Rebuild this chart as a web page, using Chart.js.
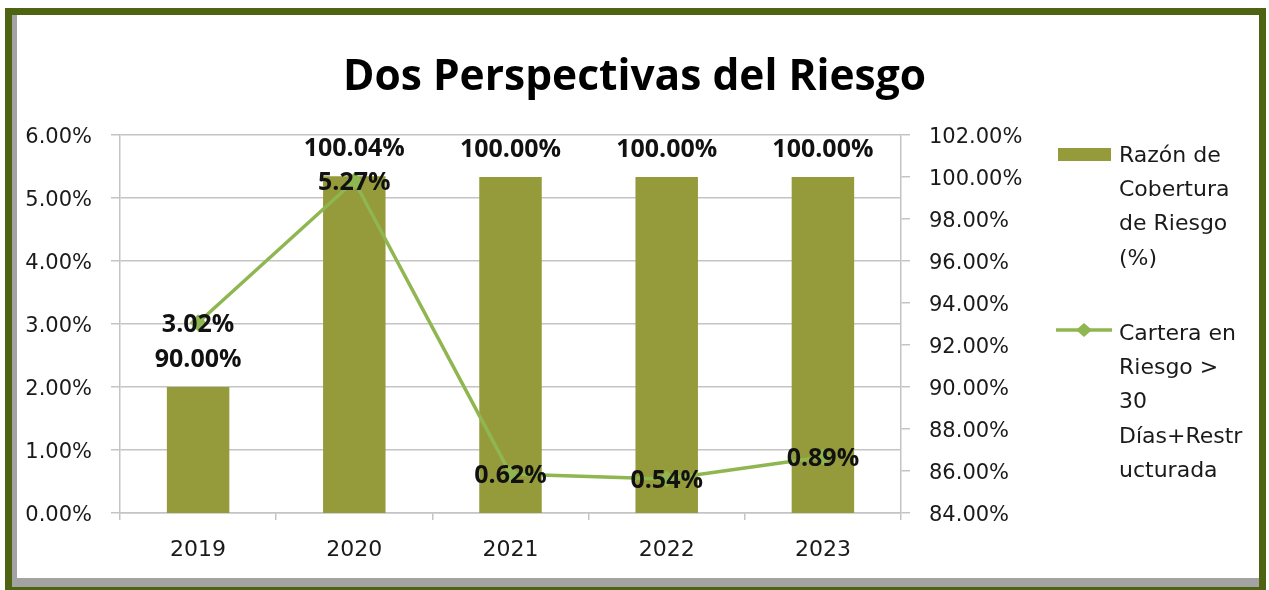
<!DOCTYPE html>
<html>
<head>
<meta charset="utf-8">
<script src="https://cdn.jsdelivr.net/npm/chart.js@4.4.1/dist/chart.umd.min.js"></script>
<style>
  html, body { margin:0; padding:0; background:#ffffff; }
  #wrap { position:relative; width:1269px; height:590px; overflow:hidden; background:#fff; }
  #c { position:absolute; left:0; top:0; }
  #frame {
    position:absolute; left:5px; top:8px; width:1261px; height:586px;
    box-sizing:border-box; border:7px solid #4e6413;
    box-shadow: inset 5px -9px 0 #a3a3a3;
    pointer-events:none;
  }
</style>
</head>
<body>
<div id="wrap">
  <canvas id="c" width="1269" height="590"></canvas>
  <div id="frame"></div>
</div>
<script>
const titleText = 'Dos Perspectivas del Riesgo';
const categories = ['2019', '2020', '2021', '2022', '2023'];
const coberturaValues = [90.00, 100.04, 100.00, 100.00, 100.00];
const carteraValues = [3.02, 5.27, 0.62, 0.54, 0.89];
const coberturaLegend = ['Razón de', 'Cobertura', 'de Riesgo', '(%)'];
const carteraLegend = ['Cartera en', 'Riesgo >', '30', 'Días+Restr', 'ucturada'];
const leftAxisRange = [0, 6, 1];
const rightAxisRange = [84, 102, 2];

const BAR_COLOR = '#959a3b';
const LINE_COLOR = '#8fb651';
const GRID = '#c4c4c4';
const TEXT = '#1a1a1a';

Chart.defaults.font.family = "'DejaVu Sans', sans-serif";
Chart.defaults.color = TEXT;

const fmt = v => Number(v).toFixed(2) + '%';

const labelPlugin = {
  id: 'valueLabels',
  afterDatasetsDraw(chart) {
    const ctx = chart.ctx;
    ctx.save();
    ctx.font = "bold 25px 'Open Sans', sans-serif";
    ctx.fillStyle = '#111';
    ctx.textAlign = 'center';
    ctx.textBaseline = 'middle';
    const barMeta = chart.getDatasetMeta(0);
    barMeta.data.forEach((el, i) => {
      ctx.fillText(fmt(chart.data.datasets[0].data[i]), el.x, el.y - 27);
    });
    const lineMeta = chart.getDatasetMeta(1);
    lineMeta.data.forEach((el, i) => {
      ctx.fillText(fmt(chart.data.datasets[1].data[i]), el.x, el.y + 2);
    });
    ctx.restore();
  }
};

const legendPlugin = {
  id: 'sideLegend',
  afterDraw(chart) {
    const ctx = chart.ctx;
    const a = chart.chartArea;
    const ds = chart.data.datasets;
    const sx = a.right + 156;
    const tx = a.right + 218;
    ctx.save();
    ctx.fillStyle = ds[0].backgroundColor;
    ctx.fillRect(sx + 1, a.top + 13, 53, 13);
    const ly = a.top + 195;
    ctx.strokeStyle = ds[1].borderColor;
    ctx.lineWidth = 3.5;
    ctx.beginPath(); ctx.moveTo(sx - 1, ly); ctx.lineTo(sx + 55, ly); ctx.stroke();
    ctx.fillStyle = ds[1].borderColor;
    ctx.beginPath();
    const cx = sx + 27;
    ctx.moveTo(cx, ly - 7); ctx.lineTo(cx + 8, ly); ctx.lineTo(cx, ly + 7); ctx.lineTo(cx - 8, ly);
    ctx.closePath(); ctx.fill();
    ctx.font = "22px 'DejaVu Sans', sans-serif";
    ctx.fillStyle = TEXT;
    ctx.textAlign = 'left';
    ctx.textBaseline = 'middle';
    const lh = 34.3;
    coberturaLegend.forEach((t, i) => ctx.fillText(t, tx, a.top + 21 + i * lh));
    carteraLegend.forEach((t, i) => ctx.fillText(t, tx, a.top + 199 + i * lh));
    ctx.restore();
  }
};

new Chart(document.getElementById('c'), {
  type: 'bar',
  data: {
    labels: categories,
    datasets: [
      {
        type: 'bar',
        label: 'Razón de Cobertura de Riesgo (%)',
        data: coberturaValues,
        backgroundColor: BAR_COLOR,
        yAxisID: 'yR',
        order: 2,
        categoryPercentage: 0.5,
        barPercentage: 0.8
      },
      {
        type: 'line',
        label: 'Cartera en Riesgo > 30 Días+Restructurada',
        data: carteraValues,
        borderColor: LINE_COLOR,
        backgroundColor: LINE_COLOR,
        borderWidth: 3.5,
        pointStyle: 'rectRot',
        pointRadius: 6,
        tension: 0,
        yAxisID: 'yL',
        order: 1
      }
    ]
  },
  options: {
    responsive: false,
    animation: false,
    devicePixelRatio: 1,
    layout: { padding: { left: 0, right: 0, top: 0, bottom: 0 } },
    plugins: {
      legend: { display: false },
      tooltip: { enabled: false },
      title: {
        display: true,
        text: titleText,
        color: '#000',
        font: { family: "'Open Sans'", size: 42.5, weight: 'bold', lineHeight: 1.2 },
        padding: { top: 52, bottom: 32 }
      }
    },
    scales: {
      x: {
        offset: true,
        grid: { offset: true, drawOnChartArea: false, drawTicks: true, tickLength: 7, color: GRID, lineWidth: 1.5 },
        border: { color: GRID, width: 1.5 },
        ticks: { font: { size: 22 }, color: TEXT, padding: 17, maxRotation: 0 },
        afterFit(s) { s.height = 77; }
      },
      yL: {
        position: 'left',
        min: leftAxisRange[0], max: leftAxisRange[1],
        ticks: { stepSize: leftAxisRange[2], callback: v => fmt(v), font: { size: 21 }, color: TEXT, padding: 19, labelOffset: 3 },
        grid: { color: GRID, lineWidth: 1.5, tickLength: 9 },
        border: { color: GRID, width: 1.5 },
        afterFit(s) { s.width = 120; }
      },
      yR: {
        position: 'right',
        min: rightAxisRange[0], max: rightAxisRange[1],
        ticks: { stepSize: rightAxisRange[2], callback: v => fmt(v), font: { size: 21 }, color: TEXT, padding: 19, labelOffset: 3 },
        grid: { drawOnChartArea: false, color: GRID, lineWidth: 1.5, tickLength: 9 },
        border: { color: GRID, width: 1.5 },
        afterFit(s) { s.width = 368; }
      }
    }
  },
  plugins: [labelPlugin, legendPlugin]
});
</script>
</body>
</html>
